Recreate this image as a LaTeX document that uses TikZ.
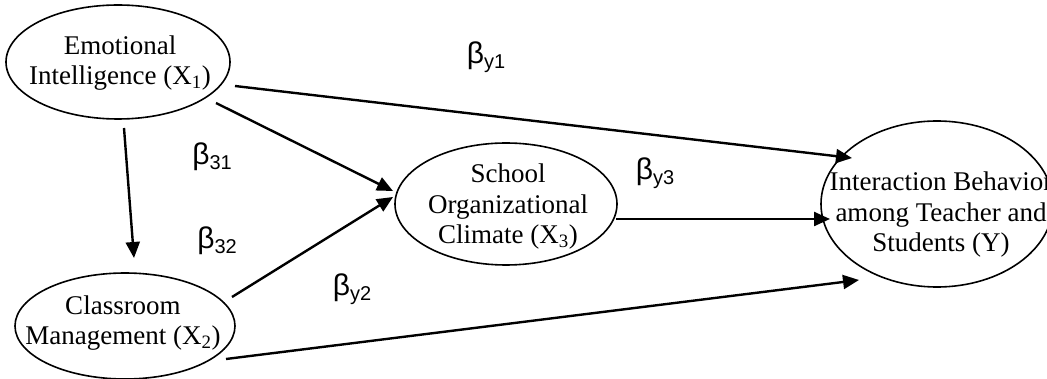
\documentclass[tikz,border=0pt]{standalone}
\usepackage{fontspec}
\setmainfont{Liberation Serif}
\newfontfamily\betafont{Liberation Sans}
\usetikzlibrary{arrows.meta,shapes.geometric}
\newcommand{\bl}[1]{{\betafont\fontsize{30}{30}\selectfont β\raisebox{-0.3ex}{\fontsize{20}{20}\selectfont #1}}}
\tikzset{
  var/.style={draw, line width=1.6pt, ellipse, inner sep=0pt},
  vartext/.style={inner sep=0pt, align=center, font=\fontsize{27}{30.5}\selectfont},
  path/.style={line width=2.4pt, -{Triangle[length=16pt,width=14pt]}},
  coef/.style={inner sep=0pt, anchor=center}
}
\begin{document}
\begin{tikzpicture}[x=1pt,y=-1pt]
\useasboundingbox (0,0) rectangle (1047,379);
\clip (0,0) rectangle (1047,379);
\node[var, minimum width=224pt, minimum height=114pt] (x1) at (118,62) {};
\node[vartext] (x1t) at (120,63) {Emotional\\Intelligence (X\textsubscript{1})};
\node[var, minimum width=220pt, minimum height=106pt] (x2) at (125,326) {};
\node[vartext] (x2t) at (123,323) {Classroom\\Management (X\textsubscript{2})};
\node[var, minimum width=222pt, minimum height=122pt] (x3) at (506,204) {};
\node[vartext] (x3t) at (508,207) {School\\Organizational\\Climate (X\textsubscript{3})};
\node[var, minimum width=232pt, minimum height=166pt] (y) at (937,204) {};
\node[vartext] (yt) at (941,215) {Interaction Behavior\\among Teacher and\\Students (Y)};
\coordinate (a1s) at (235,86);  \coordinate (a1e) at (852,158);
\coordinate (a2s) at (124,128); \coordinate (a2e) at (134,258);
\coordinate (a3s) at (216,103); \coordinate (a3e) at (393,191);
\coordinate (a4s) at (232,297); \coordinate (a4e) at (393,197);
\coordinate (a5s) at (616,219); \coordinate (a5e) at (830,219);
\coordinate (a6s) at (226,359); \coordinate (a6e) at (859,280);
\draw[path] (a1s) -- (a1e);
\draw[path] (a2s) -- (a2e);
\draw[path] (a3s) -- (a3e);
\draw[path] (a4s) -- (a4e);
\draw[path] (a5s) -- (a5e);
\draw[path] (a6s) -- (a6e);
\node[coef] (by1) at (486,57) {\bl{y1}};
\node[coef] (b31) at (212,157) {\bl{31}};
\node[coef] (b32) at (217,241) {\bl{32}};
\node[coef] (by3) at (655,173) {\bl{y3}};
\node[coef] (by2) at (352,289) {\bl{y2}};
\end{tikzpicture}
\end{document}
